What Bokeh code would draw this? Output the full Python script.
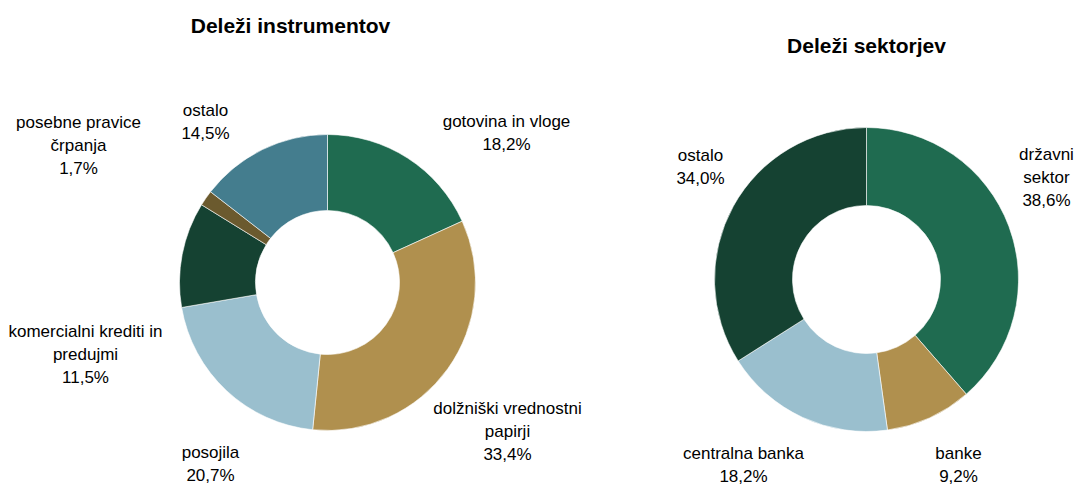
import math
from bokeh.plotting import figure
from bokeh.models import Range1d, ColumnDataSource
from bokeh.core.properties import value
from bokeh.embed import file_html
from bokeh.resources import INLINE

# ---- data ----
inst_labels = ["gotovina in vloge", "dolžniški vrednostni\npapirji", "posojila",
               "komercialni krediti in\npredujmi", "posebne pravice\nčrpanja", "ostalo"]
inst_values = [18.2, 33.4, 20.7, 11.5, 1.7, 14.5]
inst_colors = ["#1F6B50", "#B0904E", "#9ABFCE", "#154232", "#6B5A2E", "#447D8E"]

sect_labels = ["državni\nsektor", "banke", "centralna banka", "ostalo"]
sect_values = [38.6, 9.2, 18.2, 34.0]
sect_colors = ["#1F6B50", "#B0904E", "#9ABFCE", "#154232"]

titles = ["Deleži instrumentov", "Deleži sektorjev"]

# ---- layout (screen pixel positions) ----
W, H = 1080, 486
FONT = "Liberation Sans"
donuts = [
    dict(cx=327, cy=282, r_out=148, r_in=72, title_xy=(290, 25),
         label_xy=[(506, 132), (507, 431), (210, 463), (85, 354), (78, 145), (205, 121)]),
    dict(cx=866, cy=279, r_out=152, r_in=74, title_xy=(866, 45),
         label_xy=[(1046, 177), (958, 464), (743, 464), (700, 166)]),
]
LINE_H = 23

p = figure(width=W, height=H, output_backend="svg", toolbar_location=None,
           x_range=Range1d(0, W), y_range=Range1d(0, H),
           min_border=0)
p.axis.visible = False
p.grid.visible = False
p.outline_line_color = None
p.background_fill_color = "white"

def fmt(v):
    return ("%.1f" % v).replace(".", ",") + "%"

series = [(inst_labels, inst_values, inst_colors), (sect_labels, sect_values, sect_colors)]

tx, ty, tt = [], [], []
for (labels, values, colors), d, title in zip(series, donuts, titles):
    total = sum(values)
    starts, ends = [], []
    cum = 0.0
    for v in values:
        a0 = math.pi / 2 - 2 * math.pi * cum / total
        cum += v
        a1 = math.pi / 2 - 2 * math.pi * cum / total
        starts.append(a1)
        ends.append(a0)
    src = ColumnDataSource(dict(start=starts, end=ends, color=colors))
    p.annular_wedge(x=d["cx"], y=H - d["cy"], inner_radius=d["r_in"], outer_radius=d["r_out"],
                    start_angle="start", end_angle="end", fill_color="color",
                    line_color="white", line_width=0.6, source=src)
    for lab, v, (lx, ly) in zip(labels, values, d["label_xy"]):
        lines = lab.split("\n") + [fmt(v)]
        n = len(lines)
        for i, ln in enumerate(lines):
            sy = ly + (i - (n - 1) / 2) * LINE_H
            tx.append(lx)
            ty.append(H - sy)
            tt.append(ln)
    p.text(x=[d["title_xy"][0]], y=[H - d["title_xy"][1]], text=[title],
           text_font=value(FONT), text_font_style="bold", text_font_size="21px",
           text_align="center", text_baseline="middle", text_color="black")

p.text(x=tx, y=ty, text=tt, text_font=value(FONT), text_font_size="17px",
       text_align="center", text_baseline="middle", text_color="black")

open("out.html", "w").write(file_html(p, INLINE))
